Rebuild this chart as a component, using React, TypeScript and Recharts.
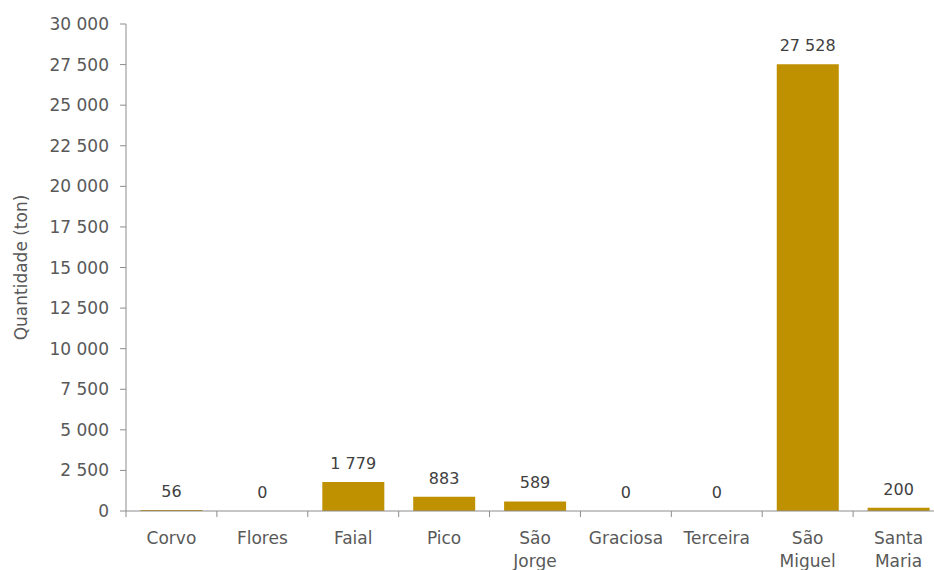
import { ComposedChart, Bar, Line, XAxis, YAxis, LabelList } from 'recharts';

const categories = ['Corvo', 'Flores', 'Faial', 'Pico', 'São Jorge', 'Graciosa', 'Terceira', 'São Miguel', 'Santa Maria'];
const quantities = [56, 0, 1779, 883, 589, 0, 0, 27528, 200];
const yTicks = [0, 2500, 5000, 7500, 10000, 12500, 15000, 17500, 20000, 22500, 25000, 27500, 30000];

const data = categories.map((name, i) => ({ name, value: quantities[i] }));

const FONT = '"DejaVu Sans", sans-serif';
const AXIS_COLOR = '#8c8c8c';
const TEXT_COLOR = '#595959';

const CHART_W = 944;
const CHART_H = 570;
const Y_AXIS_W = 126;
const BAND = (CHART_W - Y_AXIS_W) / categories.length;

const fmt = (v: number) => String(v).replace(/\B(?=(\d{3})+(?!\d))/g, ' ');

function XTick(props: any) {
  const { x, y, payload } = props;
  const words: string[] = String(payload.value).split(' ');
  const left = x - BAND / 2;
  return (
    <g>
      <line x1={left} y1={y - 8} x2={left} y2={y - 2} stroke={AXIS_COLOR} strokeWidth={1} />
      {words.map((w, i) => (
        <text
          key={i}
          x={x}
          y={y + 25 + i * 23}
          textAnchor="middle"
          fill={TEXT_COLOR}
          fontSize={17}
          fontFamily={FONT}
        >
          {w}
        </text>
      ))}
    </g>
  );
}

// labels hang off the (invisible) line points so zero values get one too
function ValueLabel(props: any) {
  const { x, y, value } = props;
  return (
    <text x={Number(x)} y={Number(y) - 13} textAnchor="middle" fill="#404040" fontSize={16} fontFamily={FONT}>
      {fmt(Number(value))}
    </text>
  );
}

export default function App() {
  return (
    <div style={{ position: 'absolute', left: 0, top: 0, width: 934, height: 570, overflow: 'hidden', background: '#fff' }}>
      <ComposedChart
        width={CHART_W}
        height={CHART_H}
        data={data}
        margin={{ top: 24, right: 0, left: 0, bottom: 0 }}
        barCategoryGap="16%"
      >
        <XAxis
          dataKey="name"
          height={59}
          interval={0}
          tickLine={false}
          axisLine={{ stroke: AXIS_COLOR }}
          tick={<XTick />}
        />
        <YAxis
          width={Y_AXIS_W}
          domain={[0, 30000]}
          ticks={yTicks}
          interval={0}
          tickFormatter={fmt}
          tickSize={6}
          tickMargin={11}
          axisLine={{ stroke: AXIS_COLOR }}
          tickLine={{ stroke: AXIS_COLOR }}
          tick={{ fill: TEXT_COLOR, fontSize: 17, fontFamily: FONT }}
          label={{
            content: ({ viewBox }: any) => (
              <text
                x={22}
                y={viewBox.y + viewBox.height / 2}
                transform={`rotate(-90, 22, ${viewBox.y + viewBox.height / 2})`}
                textAnchor="middle"
                dominantBaseline="middle"
                fill={TEXT_COLOR}
                fontSize={17}
                fontFamily={FONT}
              >
                Quantidade (ton)
              </text>
            ),
          }}
        />
        <Bar dataKey="value" fill="#BF9000" isAnimationActive={false} />
        <Line dataKey="value" stroke="none" dot={false} activeDot={false} isAnimationActive={false}>
          <LabelList dataKey="value" content={<ValueLabel />} />
        </Line>
      </ComposedChart>
    </div>
  );
}
